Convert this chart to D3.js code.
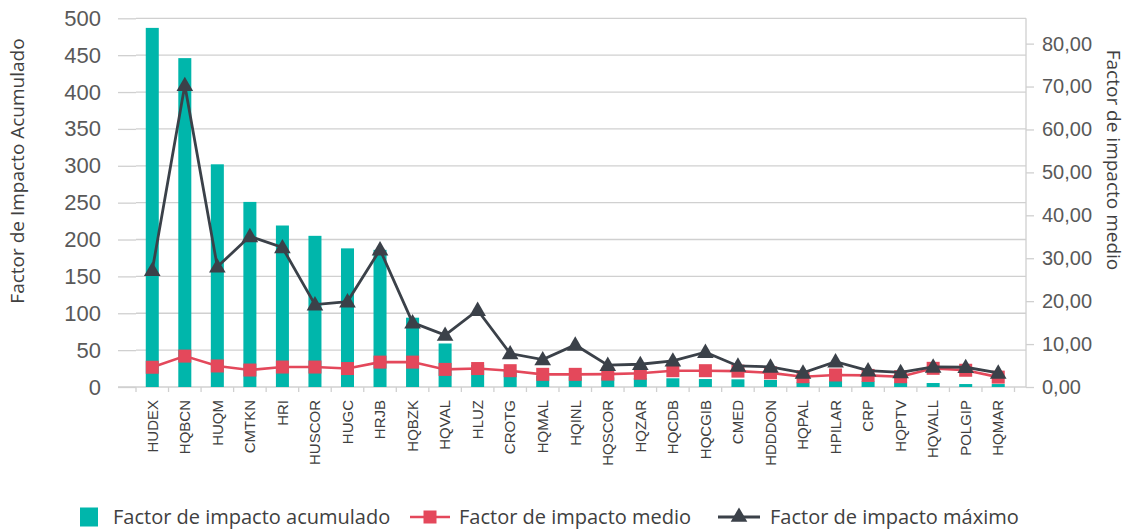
<!DOCTYPE html>
<html>
<head>
<meta charset="utf-8">
<script src="https://cdn.jsdelivr.net/npm/d3@7"></script>
<style>
  html, body { margin: 0; padding: 0; background: #fff; }
  svg { display: block; font-family: "Open Sans", "Noto Sans", sans-serif; }
</style>
</head>
<body>
<svg id="chart" width="1128" height="530"></svg>
<script>
const categories = ["HUDEX","HQBCN","HUQM","CMTKN","HRI","HUSCOR","HUGC","HRJB","HQBZK","HQVAL","HLUZ","CROTG","HQMAL","HQINL","HQSCOR","HQZAR","HQCDB","HQCGIB","CMED","HDDDON","HQPAL","HPILAR","CRP","HQPTV","HQVALL","POLGIP","HQMAR"];
const acumulado = [487, 446, 302, 251, 219, 205, 188, 186, 94, 59, 30, 22, 15, 14, 13, 12, 11.8, 10.8, 10.4, 9.5, 6.3, 8.6, 7.7, 6.3, 5.4, 4, 4];
const medio = [4.6, 7.2, 4.9, 3.95, 4.65, 4.65, 4.3, 5.8, 5.8, 4.1, 4.3, 3.8, 2.95, 2.95, 3.0, 3.2, 3.8, 3.8, 3.7, 3.3, 2.4, 2.8, 2.7, 2.4, 4.35, 3.9, 2.3];
const maximo = [27.2, 70.3, 28.0, 35.1, 32.5, 19.2, 19.9, 32.0, 15.0, 12.1, 17.9, 7.8, 6.4, 9.8, 5.1, 5.3, 6.1, 8.1, 4.9, 4.7, 3.3, 5.9, 3.8, 3.4, 4.7, 4.6, 3.3];
const leftTicks = [0, 50, 100, 150, 200, 250, 300, 350, 400, 450, 500];
const rightTicks = [0, 10, 20, 30, 40, 50, 60, 70, 80];
const seriesNames = ["Factor de impacto acumulado", "Factor de impacto medio", "Factor de impacto máximo"];
const leftTitle = "Factor de Impacto Acumulado";
const rightTitle = "Factor de impacto medio";

const C_BAR = "#00B6AB", C_MED = "#E4485B", C_MAX = "#3B4149", C_GRID = "#D0D0D0", C_TXT = "#595959";

const svg = d3.select("#chart");
const plotL = 136, plotR = 1026, catR = 1014.5, plotT = 18.3, base = 387;

const x = d3.scaleBand().domain(categories).range([plotL, catR]).paddingInner(0.6).paddingOuter(0.3);
const yL = d3.scaleLinear().domain([0, 500]).range([base, plotT]);
const yR = d3.scaleLinear().domain([0, 85.9]).range([base, plotT]);

// gridlines (left axis) with outside ticks
const gL = svg.append("g").attr("transform", `translate(${plotL},0)`)
  .call(d3.axisLeft(yL).tickValues(leftTicks).tickSize(18).tickPadding(17).tickFormat(d3.format("d")));
gL.select(".domain").remove();
gL.selectAll(".tick line").attr("stroke", C_GRID).attr("stroke-width", 1.3);
gL.selectAll(".tick text").attr("fill", C_TXT).style("font-size", "22px");
svg.append("g").selectAll("line").data(leftTicks.filter(d => d > 0)).join("line")
  .attr("x1", plotL).attr("x2", plotR).attr("y1", d => yL(d)).attr("y2", d => yL(d))
  .attr("stroke", C_GRID).attr("stroke-width", 1.3);

// right axis
const fmtR = d => d3.format(".2f")(d).replace(".", ",");
const gR = svg.append("g").attr("transform", `translate(${plotR},0)`)
  .call(d3.axisRight(yR).tickValues(rightTicks).tickSize(8).tickPadding(8).tickFormat(fmtR).tickSizeOuter(0));
gR.select(".domain").attr("stroke", C_GRID).attr("stroke-width", 1.3).attr("d", `M0,${plotT}V${base}`);
gR.selectAll(".tick line").attr("stroke", C_GRID).attr("stroke-width", 1.3);
gR.selectAll(".tick text").attr("fill", C_TXT).style("font-size", "20px");

// category axis
const gX = svg.append("g").attr("transform", `translate(0,${base})`)
  .call(d3.axisBottom(x).tickSize(0).tickPadding(0));
gX.select(".domain").remove();
svg.append("line").attr("x1", 118).attr("x2", plotR).attr("y1", base).attr("y2", base)
  .attr("stroke", C_GRID).attr("stroke-width", 1.3);
const step = x.step();
svg.append("g").selectAll("line").data(d3.range(categories.length + 1)).join("line")
  .attr("x1", i => plotL + i * step).attr("x2", i => plotL + i * step)
  .attr("y1", base).attr("y2", base + 5).attr("stroke", C_GRID).attr("stroke-width", 1.3);
gX.selectAll(".tick text")
  .attr("transform", "rotate(-90)")
  .attr("text-anchor", "end")
  .attr("x", -13).attr("y", 0).attr("dy", "0.35em")
  .attr("fill", "#404040").style("font-size", "15px");

// bars
svg.append("g").selectAll("rect").data(categories).join("rect")
  .attr("x", d => x(d)).attr("width", x.bandwidth())
  .attr("y", (d, i) => yL(acumulado[i])).attr("height", (d, i) => base - yL(acumulado[i]))
  .attr("fill", C_BAR);

const cx = d => x(d) + x.bandwidth() / 2;

// medio line
svg.append("path").datum(categories)
  .attr("d", d3.line().x(cx).y((d, i) => yR(medio[i])))
  .attr("fill", "none").attr("stroke", C_MED).attr("stroke-width", 2.6);
svg.append("g").selectAll("rect").data(categories).join("rect")
  .attr("x", d => cx(d) - 6.5).attr("y", (d, i) => yR(medio[i]) - 6.5)
  .attr("width", 13).attr("height", 13).attr("fill", C_MED);

// maximo line
const tri = d3.symbol().type(d3.symbolTriangle).size(120);
svg.append("path").datum(categories)
  .attr("d", d3.line().x(cx).y((d, i) => yR(maximo[i])))
  .attr("fill", "none").attr("stroke", C_MAX).attr("stroke-width", 2.8);
svg.append("g").selectAll("path").data(categories).join("path")
  .attr("d", tri)
  .attr("transform", (d, i) => `translate(${cx(d)},${yR(maximo[i]) + 1})`)
  .attr("fill", C_MAX);

// axis titles
svg.append("text").attr("transform", `translate(24,171) rotate(-90)`)
  .attr("text-anchor", "middle").attr("fill", "#404040").style("font-size", "19px").text(leftTitle);
svg.append("text").attr("transform", `translate(1107,160) rotate(90)`)
  .attr("text-anchor", "middle").attr("fill", "#404040").style("font-size", "19px").text(rightTitle);

// legend
const ly = 517;
const lg = svg.append("g");
lg.append("rect").attr("x", 80).attr("y", ly - 9.5).attr("width", 18).attr("height", 19).attr("fill", C_BAR);
lg.append("text").attr("x", 113).attr("y", ly).attr("dy", "0.35em").attr("fill", "#404040").style("font-size", "20px").text(seriesNames[0]);
lg.append("line").attr("x1", 410).attr("x2", 450).attr("y1", ly).attr("y2", ly).attr("stroke", C_MED).attr("stroke-width", 2.6);
lg.append("rect").attr("x", 423.5).attr("y", ly - 6.5).attr("width", 13).attr("height", 13).attr("fill", C_MED);
lg.append("text").attr("x", 459).attr("y", ly).attr("dy", "0.35em").attr("fill", "#404040").style("font-size", "20px").text(seriesNames[1]);
lg.append("line").attr("x1", 718).attr("x2", 760).attr("y1", ly).attr("y2", ly).attr("stroke", C_MAX).attr("stroke-width", 2.8);
lg.append("path").attr("d", tri).attr("transform", `translate(739,${ly})`).attr("fill", C_MAX);
lg.append("text").attr("x", 770).attr("y", ly).attr("dy", "0.35em").attr("fill", "#404040").style("font-size", "20px").text(seriesNames[2]);
</script>
</body>
</html>
